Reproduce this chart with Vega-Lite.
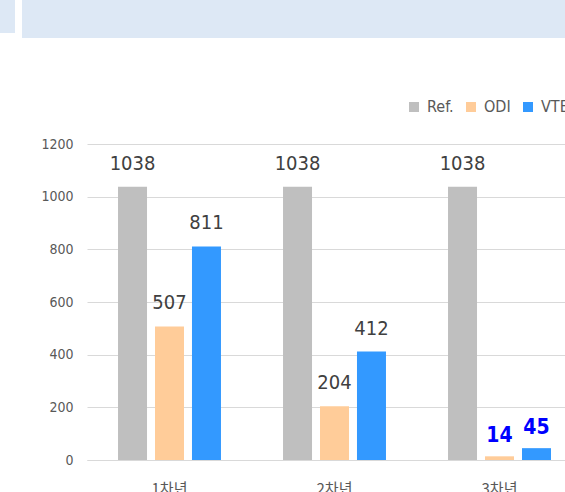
{
  "$schema": "https://vega.github.io/schema/vega-lite/v6.json",
  "padding": 0,
  "background": "white",
  "config": {
    "font": "'DejaVu Sans Condensed', 'Liberation Sans', sans-serif"
  },
  "datasets": {
    "bars": [
      {"year": "1차년", "series": "Ref.", "value": 1038},
      {"year": "1차년", "series": "ODI", "value": 507},
      {"year": "1차년", "series": "VTE", "value": 811},
      {"year": "2차년", "series": "Ref.", "value": 1038},
      {"year": "2차년", "series": "ODI", "value": 204},
      {"year": "2차년", "series": "VTE", "value": 412},
      {"year": "3차년", "series": "Ref.", "value": 1038},
      {"year": "3차년", "series": "ODI", "value": 14},
      {"year": "3차년", "series": "VTE", "value": 45}
    ]
  },
  "concat": [
    {
      "width": 15,
      "height": 33,
      "view": {"fill": "#dde8f5", "stroke": null},
      "data": {"values": [{}]},
      "mark": {"type": "text"},
      "encoding": {"text": {"value": ""}}
    },
    {
      "width": 543,
      "height": 38,
      "view": {"fill": "#dde8f5", "stroke": null},
      "data": {"values": [{}]},
      "mark": {"type": "text"},
      "encoding": {"text": {"value": ""}}
    },
    {
      "width": 1,
      "height": 316,
      "view": {"stroke": null},
      "data": {"values": [{}]},
      "mark": {"type": "text"},
      "encoding": {"text": {"value": ""}}
    },
    {
      "width": 495,
      "height": 316,
      "view": {"stroke": null},
      "data": {"name": "bars"},
      "encoding": {
        "x": {
          "field": "year",
          "type": "nominal",
          "sort": ["1차년", "2차년", "3차년"],
          "scale": {"paddingInner": 0.376, "paddingOuter": 0.188},
          "axis": {
            "title": null,
            "labelAngle": 0,
            "ticks": false,
            "domainColor": "#d9d9d9",
            "domainWidth": 1,
            "labelFont": "Noto Sans CJK KR",
            "labelFontSize": 15,
            "labelColor": "#595959",
            "labelPadding": 21
          }
        },
        "xOffset": {
          "field": "series",
          "type": "nominal",
          "sort": ["Ref.", "ODI", "VTE"],
          "scale": {"paddingInner": 0.216, "paddingOuter": 0}
        },
        "y": {
          "field": "value",
          "type": "quantitative",
          "scale": {"domain": [0, 1200], "nice": false},
          "axis": {
            "title": null,
            "values": [0, 200, 400, 600, 800, 1000, 1200],
            "format": "d",
            "domain": false,
            "ticks": false,
            "gridColor": "#d9d9d9",
            "gridWidth": 1,
            "labelFont": "'DejaVu Sans Condensed', 'Liberation Sans', sans-serif",
            "labelFontSize": 14,
            "labelColor": "#595959",
            "labelPadding": 14,
            "minExtent": 65
          }
        }
      },
      "layer": [
        {
          "mark": {"type": "bar"},
          "encoding": {
            "color": {
              "field": "series",
              "type": "nominal",
              "scale": {"domain": ["Ref.", "ODI", "VTE"], "range": ["#bfbfbf", "#ffcc99", "#3399ff"]},
              "legend": {
                "title": null,
                "orient": "none",
                "direction": "horizontal",
                "legendX": 406,
                "legendY": 99,
                "symbolType": "square",
                "symbolSize": 100,
                "symbolStrokeWidth": 0,
                "symbolOpacity": 1,
                "labelFont": "'DejaVu Sans Condensed', 'Liberation Sans', sans-serif",
                "labelFontSize": 16,
                "labelColor": "#595959",
                "labelOffset": 5,
                "columnPadding": 9
              }
            }
          }
        },
        {
          "transform": [{"filter": "!(datum.year === '3차년' && datum.series !== 'Ref.')"}],
          "mark": {"type": "text", "baseline": "alphabetic", "dy": -17, "font": "'DejaVu Sans Condensed', 'Liberation Sans', sans-serif", "fontSize": 20, "color": "#404040"},
          "encoding": {"text": {"field": "value", "type": "quantitative"}}
        },
        {
          "transform": [{"filter": "datum.year === '3차년' && datum.series !== 'Ref.'"}],
          "mark": {"type": "text", "baseline": "alphabetic", "dy": -14, "font": "'DejaVu Sans Condensed', 'Liberation Sans', sans-serif", "fontSize": 21, "fontWeight": "bold", "color": "#0000ff"},
          "encoding": {"text": {"field": "value", "type": "quantitative"}}
        }
      ]
    }
  ],
  "columns": 2,
  "align": "none",
  "spacing": {"row": 99, "column": 7}
}
